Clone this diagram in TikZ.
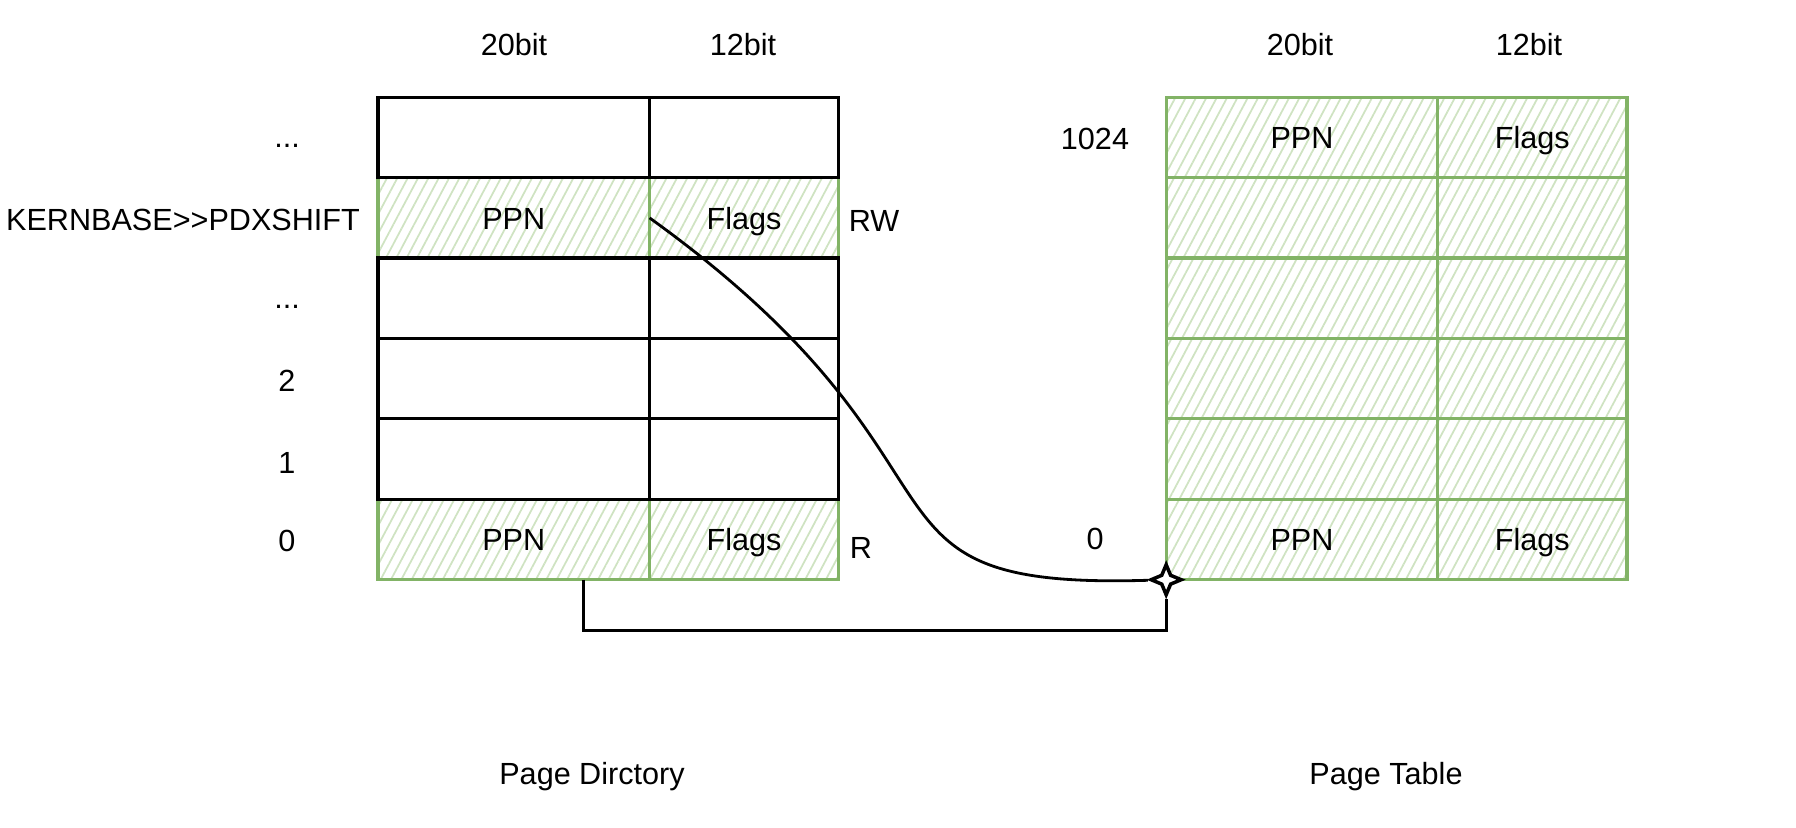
\documentclass[tikz,border=0pt]{standalone}
\usepackage{fontspec}
\setmainfont{Liberation Sans}
\usepackage{xcolor}
\usetikzlibrary{positioning,arrows.meta,shapes.geometric,patterns.meta}
\definecolor{pgreen}{HTML}{82B366}
\definecolor{hgreen}{HTML}{CFE3C2}

\begin{document}
\begin{tikzpicture}[x=0.01cm, y=-0.01cm,
    every node/.style={font=\fontsize{8.7}{10}\selectfont},
    cell/.style={draw, line width=0.9pt, inner sep=0pt, outer sep=0pt, minimum height=0.804cm,
                 text height=1.6ex, text depth=0.4ex},
    wide/.style={cell, minimum width=2.715cm},
    narrow/.style={cell, minimum width=1.89cm},
    used/.style={draw=pgreen, pattern={Lines[angle=62,distance=2.6pt,line width=0.5pt]}, pattern color=hgreen},
    lbl/.style={anchor=base},
    lnk/.style={line width=0.8pt},
    tipmark/.style={star, star points=4, star point ratio=2.4, minimum size=0.3cm,
                    inner sep=0pt, draw, fill=white, line width=1pt}
  ]
  \useasboundingbox (0,0) rectangle (1796,828);

  % ---------------- Page directory ----------------
  \node[lbl] at (514,56) {20bit};
  \node[lbl] at (743,56) {12bit};
  \node[wide, used]   (pdka) at (513.75,217.9) {PPN};
  \node[narrow, used, right=0pt of pdka] (pdkb) {Flags};
  \node[wide, used]   (pd0a) at (513.75,539.5) {PPN};
  \node[narrow, used, right=0pt of pd0a] (pd0b) {Flags};
  \node[wide]         (pd5a) at (513.75,137.5) {};
  \node[narrow, right=0pt of pd5a] (pd5b) {};
  \node[wide]         (pd3a) at (513.75,298.3) {};
  \node[narrow, right=0pt of pd3a] (pd3b) {};
  \node[wide]         (pd2a) at (513.75,378.7) {};
  \node[narrow, right=0pt of pd2a] (pd2b) {};
  \node[wide]         (pd1a) at (513.75,459.1) {};
  \node[narrow, right=0pt of pd1a] (pd1b) {};

  \node[lbl] at (287,148) {...};
  \node[lbl] at (183,231) {KERNBASE>{}>PDXSHIFT};
  \node[lbl] at (287,309) {...};
  \node[lbl] at (287,392) {2};
  \node[lbl] at (287,474) {1};
  \node[lbl] at (287,552) {0};
  \node[lbl] at (874,232) {RW};
  \node[lbl] at (861,559) {R};

  % ---------------- Page table ----------------
  \node[lbl] at (1300,56) {20bit};
  \node[lbl] at (1529,56) {12bit};
  \node[wide, used]   (pt5a) at (1302,137.5) {PPN};
  \node[narrow, used, right=0pt of pt5a] (pt5b) {Flags};
  \node[wide, used]   (pt4a) at (1302,217.9) {};
  \node[narrow, used, right=0pt of pt4a] (pt4b) {};
  \node[wide, used]   (pt3a) at (1302,298.3) {};
  \node[narrow, used, right=0pt of pt3a] (pt3b) {};
  \node[wide, used]   (pt2a) at (1302,378.7) {};
  \node[narrow, used, right=0pt of pt2a] (pt2b) {};
  \node[wide, used]   (pt1a) at (1302,459.1) {};
  \node[narrow, used, right=0pt of pt1a] (pt1b) {};
  \node[wide, used]   (pt0a) at (1302,539.5) {PPN};
  \node[narrow, used, right=0pt of pt0a] (pt0b) {Flags};

  \node[lbl] at (1095,150) {1024};
  \node[lbl] at (1095,550) {0};

  % ---------------- links ----------------
  \node[tipmark] (tip) at (pt0a.south west) {};
  \coordinate (brk) at ([xshift=0.7cm]pd0a.south);
  \draw[lnk] (pdka.east) .. controls (1000,470) and (830,590) .. (tip);
  \draw[lnk] (brk) -- ++(0,51) -| (tip);

  \node (pdname) at (592,777) {Page Dirctory};
  \node (ptname) at (1386,777) {Page Table};
\end{tikzpicture}
\end{document}
